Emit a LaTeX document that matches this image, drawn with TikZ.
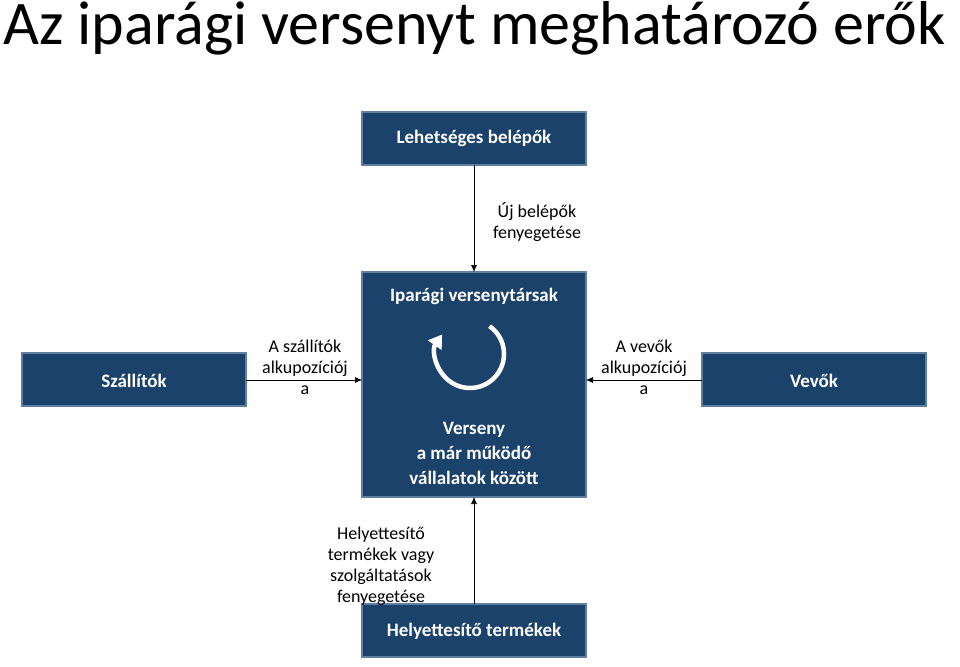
\documentclass[tikz,border=0pt]{standalone}
\usepackage{fontspec}
\setmainfont{Carlito}
\usetikzlibrary{arrows.meta}
\definecolor{boxblue}{HTML}{1B426B}
\definecolor{boxedge}{HTML}{5F7FA3}
\begin{document}
\begin{tikzpicture}[x=1pt,y=-1pt,
  bbox/.style={fill=boxblue,draw=boxedge,line width=1.2pt},
  btxt/.style={text=white,align=center,font=\bfseries\fontsize{19}{25}\selectfont},
  lbl/.style={align=center,font=\fontsize{18}{21}\selectfont},
  conn/.style={-{Latex[length=7pt,width=6pt]},line width=0.6pt}]
\useasboundingbox (0,0) rectangle (960,666);
\node[anchor=west,inner sep=0pt,font=\fontsize{62}{66}\selectfont] (title) at (3,28) {Az iparági versenyt meghatározó erők};
\draw[bbox] (362,112) rectangle (586,165);
\node[btxt] (top) at (474,138.5) {Lehetséges belépők};
\coordinate (topb) at (474,165);
\draw[bbox] (362,272) rectangle (586,497);
\node[btxt] (ip) at (474,296) {Iparági versenytársak};
\node[btxt] (vs) at (474,453) {Verseny\\a már működő\\vállalatok között};
\coordinate (bigt) at (474,272);\coordinate (bigb) at (474,497);
\coordinate (bigl) at (362,380);\coordinate (bigr) at (586,380);
\draw[bbox] (22,353) rectangle (246,406);
\node[btxt] (sz) at (134,381) {Szállítók};
\coordinate (szr) at (246,380);
\draw[bbox] (702,353) rectangle (926,406);
\node[btxt] (ve) at (814,381) {Vevők};
\coordinate (vel) at (702,380);
\draw[bbox] (362,604) rectangle (586,657);
\node[btxt] (he) at (474,631) {Helyettesítő termékek};
\coordinate (het) at (474,604);
\draw[conn] (topb) -- (bigt);
\draw[conn] (szr) -- (bigl);
\draw[conn] (vel) -- (bigr);
\draw[conn] (het) -- (bigb);
\node[lbl] (l1) at (537,222) {Új belépők\\fenyegetése};
\node[lbl] (l2) at (305,367) {A szállítók\\alkupozíciój\\a};
\node[lbl] (l3) at (644,367) {A vevők\\alkupozíciój\\a};
\node[lbl] (l4) at (381,566) {Helyettesítő\\termékek vagy\\szolgáltatások\\fenyegetése};
\draw[white,line width=4.5pt,-{Triangle[length=13pt,width=16pt]}] (470,354) ++(-55:34) arc[start angle=-55,end angle=215,radius=34];
\end{tikzpicture}
\end{document}
